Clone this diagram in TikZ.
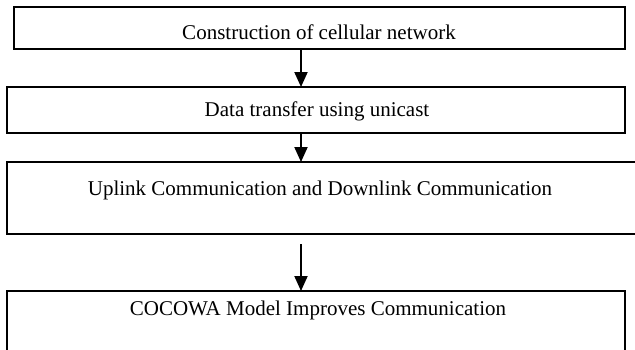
\documentclass[tikz,border=0pt]{standalone}
\usepackage{fontspec}
\setmainfont{Liberation Serif}
\usetikzlibrary{arrows.meta}
\tikzset{
  box/.style={draw=black, line width=2pt, rectangle, inner sep=0pt, outer sep=0pt},
  txt/.style={font=\fontsize{21}{24}\selectfont, inner sep=0pt, anchor=base},
  arr/.style={line width=2pt, -{Triangle[width=13pt,length=15pt]}}
}
\begin{document}
\begin{tikzpicture}[x=1pt,y=-1pt]
\useasboundingbox (0,0) rectangle (635,349);
\clip (0,0) rectangle (635,349);
\node[box, minimum width=611pt, minimum height=42pt] (b1) at (319.5,28) {};
\node[box, minimum width=618pt, minimum height=46pt] (b2) at (316,110) {};
\node[box, minimum width=638pt, minimum height=72pt] (b3) at (326,198) {};
\node[box, minimum width=618pt, minimum height=79pt] (b4) at (316,330.5) {};
\node[txt] (t1) at (319,39) {Construction of cellular network};
\node[txt] (t2) at (317,116) {Data transfer using unicast};
\node[txt] (t3) at (320,195) {Uplink Communication and Downlink Communication};
\node[txt] (t4) at (318,315) {COCOWA Model Improves Communication};
\coordinate (ax) at (301,0);
\draw[arr] (ax |- b1.south) -- (ax |- b2.north);
\draw[arr] (ax |- b2.south) -- (ax |- b3.north);
\draw[arr] ([yshift=-10pt]ax |- b3.south) -- (ax |- b4.north);
\end{tikzpicture}
\end{document}
